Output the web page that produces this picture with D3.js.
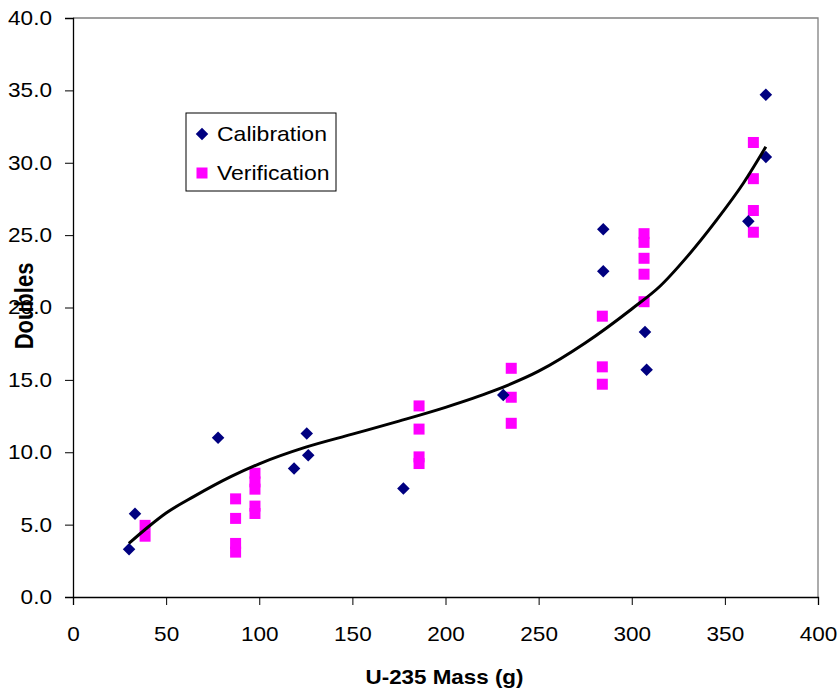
<!DOCTYPE html>
<html>
<head>
<meta charset="utf-8">
<script src="https://cdn.jsdelivr.net/npm/d3@7"></script>
<style>
  body { margin: 0; background: #fff; }
  text { font-family: "Liberation Sans", Arial, sans-serif; }
</style>
</head>
<body>
<svg id="chart"></svg>
<script>
// calibration points (diamonds)
const calX = [30.1, 33.3, 77.9, 118.7, 125.5, 126.3, 177.4, 231, 284.7, 284.7, 307.1, 308, 362.6, 372, 372];
const calY = [3.3, 5.75, 11.0, 8.87, 11.3, 9.8, 7.5, 13.95, 25.4, 22.5, 18.3, 15.7, 25.95, 34.7, 30.4];

// verification points (squares)
const verX = [38.7, 38.7, 87.3, 87.3, 87.3, 87.3, 97.7, 97.7, 97.7, 97.7, 97.7,
              185.8, 185.8, 185.8, 185.8, 235.3, 235.3, 235.3,
              284.2, 284.2, 284.2, 306.6, 306.6, 306.6, 306.6, 306.6,
              365.3, 365.3, 365.3, 365.3];
const verY = [4.95, 4.2, 6.78, 5.43, 3.7, 3.1, 8.55, 7.95, 7.45, 6.28, 5.77,
              13.2, 11.6, 9.68, 9.22, 15.8, 13.8, 12.0,
              19.4, 15.9, 14.7, 25.1, 24.5, 23.4, 22.3, 20.4,
              31.4, 28.9, 26.7, 25.2];

// fitted trend line
const trendX = [30, 40, 50, 65, 85, 100, 125, 150, 175, 200, 225, 250, 275, 300, 315, 330, 345, 360, 372];
const trendY = [3.7, 4.8, 5.8, 6.95, 8.33, 9.2, 10.35, 11.25, 12.15, 13.1, 14.2, 15.6, 17.55, 19.9, 21.45, 23.55, 25.95, 28.6, 31.1];

// tick values
const xTicks = [0, 50, 100, 150, 200, 250, 300, 350, 400];
const yTicks = [0, 5, 10, 15, 20, 25, 30, 35, 40];

const W = 840, H = 691;
// plot area edges (avoid "top" - it clashes with window.top)
const pLeft = 73, pRight = 818, pTop = 18, pBottom = 597;
// the original picture is a bit stretched sideways, text too
const SX = 1.13;

const svg = d3.select("#chart").attr("width", W).attr("height", H);
svg.append("rect").attr("width", W).attr("height", H).attr("fill", "#fff");

const x = d3.scaleLinear().domain([0, 400]).range([pLeft, pRight]);
const y = d3.scaleLinear().domain([0, 40]).range([pBottom, pTop]);

// plot border (top + right in grey)
svg.append("path")
  .attr("d", `M${pLeft},${pTop}H${pRight}V${pBottom}`)
  .attr("fill", "none").attr("stroke", "#808080").attr("stroke-width", 1.3);

// x axis
const xAxis = d3.axisBottom(x).tickValues(xTicks).tickSize(8).tickPadding(22).tickFormat(d3.format("d"));
const gx = svg.append("g").attr("transform", `translate(0,${pBottom})`).call(xAxis);
gx.select(".domain").attr("stroke", "#000").attr("stroke-width", 1.3);
gx.selectAll(".tick line").attr("stroke", "#000");
gx.selectAll("text").attr("font-size", 20).attr("fill", "#000")
  .attr("font-family", "Liberation Sans, Arial, sans-serif")
  .attr("transform", `scale(${SX},1)`);

// y axis
const yAxis = d3.axisLeft(y).tickValues(yTicks).tickSize(8).tickFormat(d3.format(".1f"));
const gy = svg.append("g").attr("transform", `translate(${pLeft},0)`).call(yAxis);
gy.select(".domain").attr("stroke", "#000").attr("stroke-width", 1.3);
gy.selectAll(".tick line").attr("stroke", "#000");
gy.selectAll("text").attr("font-size", 20).attr("fill", "#000")
  .attr("font-family", "Liberation Sans, Arial, sans-serif")
  .attr("x", -21 / SX)
  .attr("transform", `scale(${SX},1)`);

// axis titles
svg.append("text")
  .attr("transform", `translate(${(pLeft + pRight) / 2 - 1},684) scale(1.12,1)`)
  .attr("text-anchor", "middle").attr("font-size", 20).attr("font-weight", "bold")
  .text("U-235 Mass (g)");
svg.append("text")
  .attr("transform", "translate(33,306) scale(1.15,1) rotate(-90)")
  .attr("text-anchor", "middle").attr("font-size", 22).attr("font-weight", "bold")
  .text("Doubles");

const diamond = d3.symbol().type(d3.symbolDiamond2).size(100);

// verification squares
svg.append("g").selectAll("rect")
  .data(verX.map((v, i) => [v, verY[i]]))
  .enter().append("rect")
  .attr("x", d => x(d[0]) - 5.5).attr("y", d => y(d[1]) - 5.5)
  .attr("width", 11).attr("height", 11)
  .attr("fill", "#ff00ff");

// calibration diamonds
svg.append("g").selectAll("path")
  .data(calX.map((v, i) => [v, calY[i]]))
  .enter().append("path")
  .attr("d", diamond)
  .attr("transform", d => `translate(${x(d[0])},${y(d[1])})`)
  .attr("fill", "#000080");

// trend line
const line = d3.line().x(d => x(d[0])).y(d => y(d[1])).curve(d3.curveMonotoneX);
svg.append("path")
  .datum(trendX.map((v, i) => [v, trendY[i]]))
  .attr("d", line)
  .attr("fill", "none").attr("stroke", "#000").attr("stroke-width", 3);

// legend
const lg = svg.append("g").attr("transform", "translate(186,113)");
lg.append("rect").attr("width", 150).attr("height", 78)
  .attr("fill", "#fff").attr("stroke", "#000").attr("stroke-width", 1);
lg.append("path").attr("d", diamond).attr("transform", "translate(16,21)").attr("fill", "#000080");
lg.append("rect").attr("x", 10.5).attr("y", 54.5).attr("width", 11).attr("height", 11).attr("fill", "#ff00ff");
lg.append("text").attr("transform", "translate(31,28) scale(1.15,1)").attr("font-size", 20).text("Calibration");
lg.append("text").attr("transform", "translate(31,67) scale(1.15,1)").attr("font-size", 20).text("Verification");
</script>
</body>
</html>
